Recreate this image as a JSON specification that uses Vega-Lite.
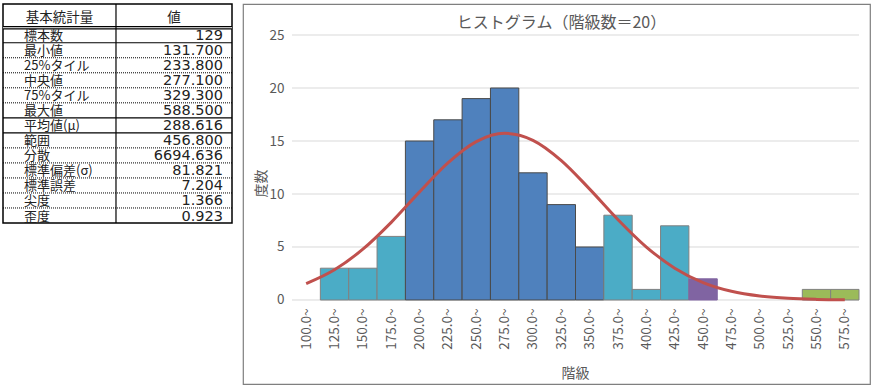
{
  "$schema": "https://vega.github.io/schema/vega-lite/v6.json",
  "background": "white",
  "padding": {"left": 0, "top": 2, "right": 0, "bottom": 0},
  "spacing": 11,
  "bounds": "flush",
  "config": {
    "font": "Noto Sans CJK JP",
    "axis": {"labelFont": "Noto Sans CJK JP", "titleFont": "Noto Sans CJK JP"}
  },
  "datasets": {
    "stats": [
      {"row": 1, "name": "標本数", "value": "129"},
      {"row": 2, "name": "最小値", "value": "131.700"},
      {"row": 3, "name": "25%タイル", "value": "233.800"},
      {"row": 4, "name": "中央値", "value": "277.100"},
      {"row": 5, "name": "75%タイル", "value": "329.300"},
      {"row": 6, "name": "最大値", "value": "588.500"},
      {"row": 7, "name": "平均値(μ)", "value": "288.616"},
      {"row": 8, "name": "範囲", "value": "456.800"},
      {"row": 9, "name": "分散", "value": "6694.636"},
      {"row": 10, "name": "標準偏差(σ)", "value": "81.821"},
      {"row": 11, "name": "標準誤差", "value": "7.204"},
      {"row": 12, "name": "尖度", "value": "1.366"},
      {"row": 13, "name": "歪度", "value": "0.923"}
    ],
    "header": [{"name": "基本統計量", "value": "値"}],
    "lines": [
      {"pos": 0, "kind": "double"},
      {"pos": 1, "kind": "solid"},
      {"pos": 2, "kind": "dotted"},
      {"pos": 3, "kind": "dotted"},
      {"pos": 4, "kind": "dotted"},
      {"pos": 5, "kind": "dotted"},
      {"pos": 6, "kind": "solid"},
      {"pos": 7, "kind": "solid"},
      {"pos": 8, "kind": "dotted"},
      {"pos": 9, "kind": "dotted"},
      {"pos": 10, "kind": "dotted"},
      {"pos": 11, "kind": "dotted"},
      {"pos": 12, "kind": "dotted"}
    ],
    "bins": [
      {"klass": "100.0~", "lower": 100, "upper": 125, "mid": 112.5, "count": 0, "zone": "2σ超", "normal": 1.550},
      {"klass": "125.0~", "lower": 125, "upper": 150, "mid": 137.5, "count": 3, "zone": "1σ超", "normal": 2.857},
      {"klass": "150.0~", "lower": 150, "upper": 175, "mid": 162.5, "count": 3, "zone": "1σ超", "normal": 4.794},
      {"klass": "175.0~", "lower": 175, "upper": 200, "mid": 187.5, "count": 6, "zone": "1σ超", "normal": 7.327},
      {"klass": "200.0~", "lower": 200, "upper": 225, "mid": 212.5, "count": 15, "zone": "1σ以内", "normal": 10.202},
      {"klass": "225.0~", "lower": 225, "upper": 250, "mid": 237.5, "count": 17, "zone": "1σ以内", "normal": 12.936},
      {"klass": "250.0~", "lower": 250, "upper": 275, "mid": 262.5, "count": 19, "zone": "1σ以内", "normal": 14.943},
      {"klass": "275.0~", "lower": 275, "upper": 300, "mid": 287.5, "count": 20, "zone": "1σ以内", "normal": 15.723},
      {"klass": "300.0~", "lower": 300, "upper": 325, "mid": 312.5, "count": 12, "zone": "1σ以内", "normal": 15.068},
      {"klass": "325.0~", "lower": 325, "upper": 350, "mid": 337.5, "count": 9, "zone": "1σ以内", "normal": 13.154},
      {"klass": "350.0~", "lower": 350, "upper": 375, "mid": 362.5, "count": 5, "zone": "1σ以内", "normal": 10.460},
      {"klass": "375.0~", "lower": 375, "upper": 400, "mid": 387.5, "count": 8, "zone": "1σ超", "normal": 7.575},
      {"klass": "400.0~", "lower": 400, "upper": 425, "mid": 412.5, "count": 1, "zone": "1σ超", "normal": 4.998},
      {"klass": "425.0~", "lower": 425, "upper": 450, "mid": 437.5, "count": 7, "zone": "1σ超", "normal": 3.003},
      {"klass": "450.0~", "lower": 450, "upper": 475, "mid": 462.5, "count": 2, "zone": "2σ超", "normal": 1.644},
      {"klass": "475.0~", "lower": 475, "upper": 500, "mid": 487.5, "count": 0, "zone": "2σ超", "normal": 0.820},
      {"klass": "500.0~", "lower": 500, "upper": 525, "mid": 512.5, "count": 0, "zone": "2σ超", "normal": 0.372},
      {"klass": "525.0~", "lower": 525, "upper": 550, "mid": 537.5, "count": 0, "zone": "3σ超", "normal": 0.154},
      {"klass": "550.0~", "lower": 550, "upper": 575, "mid": 562.5, "count": 1, "zone": "3σ超", "normal": 0.058},
      {"klass": "575.0~", "lower": 575, "upper": 600, "mid": 587.5, "count": 1, "zone": "3σ超", "normal": 0.020}
    ],
    "grid": [{"v": 0}, {"v": 5}, {"v": 10}, {"v": 15}, {"v": 20}, {"v": 25}]
  },
  "hconcat": [
    {
      "width": 229,
      "height": 219,
      "view": {"stroke": "#000000", "strokeWidth": 1.5},
      "layer": [
        {
          "data": {"name": "lines"},
          "transform": [{"filter": "datum.kind === 'double'"}],
          "mark": {"type": "rule", "color": "#000000", "strokeWidth": 3.4},
          "encoding": {
            "y": {"field": "pos", "type": "quantitative", "scale": {"domain": [-1.58, 13], "reverse": true, "nice": false, "zero": false}, "axis": null},
            "x": {"datum": 0, "type": "quantitative", "scale": {"domain": [0, 1], "nice": false, "zero": false}, "axis": null},
            "x2": {"datum": 1}
          }
        },
        {
          "data": {"name": "lines"},
          "transform": [{"filter": "datum.kind === 'double'"}],
          "mark": {"type": "rule", "color": "#ffffff", "strokeWidth": 1.2},
          "encoding": {
            "y": {"field": "pos", "type": "quantitative"},
            "x": {"datum": 0, "type": "quantitative"},
            "x2": {"datum": 1}
          }
        },
        {
          "data": {"name": "lines"},
          "transform": [{"filter": "datum.kind === 'solid'"}],
          "mark": {"type": "rule", "color": "#000000", "strokeWidth": 1.2},
          "encoding": {
            "y": {"field": "pos", "type": "quantitative"},
            "x": {"datum": 0, "type": "quantitative"},
            "x2": {"datum": 1}
          }
        },
        {
          "data": {"name": "lines"},
          "transform": [{"filter": "datum.kind === 'dotted'"}],
          "mark": {"type": "rule", "color": "#000000", "strokeWidth": 1, "strokeDash": [1, 1]},
          "encoding": {
            "y": {"field": "pos", "type": "quantitative"},
            "x": {"datum": 0, "type": "quantitative"},
            "x2": {"datum": 1}
          }
        },
        {
          "data": {"values": [{"split": 0.4934}]},
          "mark": {"type": "rule", "color": "#000000", "strokeWidth": 1.2},
          "encoding": {
            "x": {"field": "split", "type": "quantitative"}
          }
        },
        {
          "data": {"name": "header"},
          "mark": {"type": "text", "align": "center", "baseline": "alphabetic", "dy": -6, "fontSize": 13.5, "color": "#222222"},
          "encoding": {
            "x": {"datum": 0.2467, "type": "quantitative"},
            "y": {"datum": 0, "type": "quantitative"},
            "text": {"field": "name"}
          }
        },
        {
          "data": {"name": "header"},
          "mark": {"type": "text", "align": "center", "baseline": "alphabetic", "dy": -6, "fontSize": 13.5, "color": "#222222"},
          "encoding": {
            "x": {"datum": 0.7467, "type": "quantitative"},
            "y": {"datum": 0, "type": "quantitative"},
            "text": {"field": "value"}
          }
        },
        {
          "data": {"name": "stats"},
          "mark": {"type": "text", "align": "left", "baseline": "alphabetic", "dx": 21, "dy": -2.5, "fontSize": 13, "color": "#222222"},
          "encoding": {
            "x": {"datum": 0, "type": "quantitative"},
            "y": {"field": "row", "type": "quantitative"},
            "text": {"field": "name"}
          }
        },
        {
          "data": {"name": "stats"},
          "mark": {"type": "text", "align": "right", "baseline": "alphabetic", "dx": -9, "dy": -2.5, "fontSize": 14.5, "font": "DejaVu Sans", "color": "#222222"},
          "encoding": {
            "x": {"datum": 1, "type": "quantitative"},
            "y": {"field": "row", "type": "quantitative"},
            "text": {"field": "value"}
          }
        }
      ]
    },
    {
      "width": 627,
      "height": 380,
      "view": {"stroke": "#7f7f7f", "strokeWidth": 1.2},
      "title": {
        "text": "ヒストグラム（階級数＝20）",
        "anchor": "middle",
        "offset": -27,
        "dx": 5,
        "fontSize": 16,
        "fontWeight": "normal",
        "color": "#595959",
        "font": "Noto Sans CJK JP"
      },
      "layer": [
        {
          "data": {"name": "grid"},
          "mark": {"type": "rule", "color": "#d9d9d9", "strokeWidth": 1},
          "encoding": {
            "y": {
              "field": "v", "type": "quantitative",
              "scale": {"domain": [-7.925, 27.925], "nice": false, "zero": false},
              "axis": {
                "orient": "left",
                "offset": -49,
                "values": [0, 5, 10, 15, 20, 25],
                "labelPadding": 8,
                "labelFontSize": 13.5,
                "labelColor": "#595959",
                "grid": false,
                "domain": false,
                "ticks": false,
                "title": "度数",
                "titleFontSize": 14,
                "titleFontWeight": "normal",
                "titleColor": "#595959",
                "titleX": -24,
                "titleY": 179,
                "titleAnchor": null,
                "titleAlign": "center"
              }
            },
            "x": {
              "datum": 100, "type": "quantitative",
              "scale": {"domain": [56.79, 609.7], "nice": false, "zero": false},
              "axis": {
                "orient": "bottom",
                "offset": -84,
                "values": [112.5, 137.5, 162.5, 187.5, 212.5, 237.5, 262.5, 287.5, 312.5, 337.5, 362.5, 387.5, 412.5, 437.5, 462.5, 487.5, 512.5, 537.5, 562.5, 587.5],
                "tickCount": 50,
                "labelExpr": "format(datum.value - 12.5, '.1f') + '~'",
                "labelAngle": -90,
                "labelPadding": 8,
                "labelFontSize": 13.5,
                "labelColor": "#595959",
                "labelOverlap": false,
                "labelBound": false,
                "labelFlush": false,
                "grid": false,
                "domain": false,
                "ticks": false,
                "title": "階級",
                "titleFontSize": 14,
                "titleFontWeight": "normal",
                "titleColor": "#595959",
                "titleX": 332,
                "titleY": 66,
                "titleAlign": "center",
                "titleBaseline": "top",
                "titleAnchor": null
              }
            },
            "x2": {"datum": 600}
          }
        },
        {
          "data": {"name": "bins"},
          "transform": [{"filter": "datum.count > 0"}],
          "mark": {"type": "bar", "strokeWidth": 1, "fillOpacity": 1},
          "encoding": {
            "x": {"field": "lower", "type": "quantitative"},
            "x2": {"field": "upper"},
            "y": {"field": "count", "type": "quantitative"},
            "y2": {"datum": 0},
            "fill": {
              "field": "zone", "type": "nominal", "legend": null,
              "scale": {"domain": ["1σ以内", "1σ超", "2σ超", "3σ超"], "range": ["#4F81BD", "#4BACC6", "#8064A2", "#9BBB59"]}
            },
            "stroke": {
              "field": "zone", "type": "nominal", "legend": null,
              "scale": {"domain": ["1σ以内", "1σ超", "2σ超", "3σ超"], "range": ["#4a4a4a", "#808080", "#8064A2", "#808080"]}
            }
          }
        },
        {
          "data": {"name": "bins"},
          "mark": {"type": "line", "color": "#C0504D", "strokeWidth": 3, "interpolate": "monotone"},
          "encoding": {
            "x": {"field": "mid", "type": "quantitative"},
            "y": {"field": "normal", "type": "quantitative"}
          }
        }
      ]
    }
  ]
}
